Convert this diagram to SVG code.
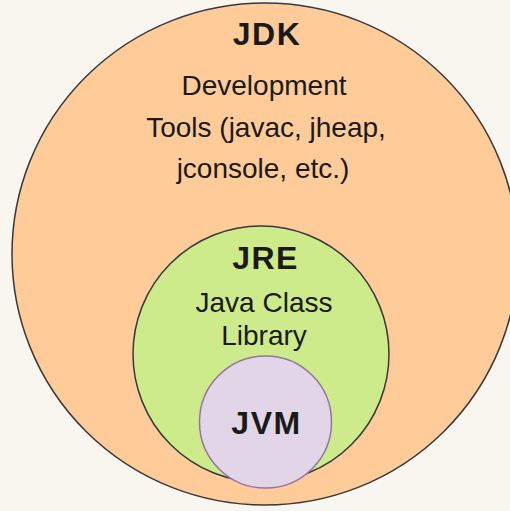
<svg xmlns="http://www.w3.org/2000/svg" width="510" height="511" viewBox="0 0 510 511">
<style>
.c{stroke:#36393d;stroke-width:1.5}
.t{font-family:"Liberation Sans",Arial,sans-serif;font-size:28px;fill:#1a1a1a;text-anchor:middle}
.b{font-weight:bold;font-size:32px;letter-spacing:1.5px}
</style>
<rect width="510" height="511" fill="#f9f6ef"/>
<g id="jdk">
<ellipse class="c" cx="265" cy="254" rx="253" ry="251" fill="#ffcc99"/>
<text class="t b" x="267" y="45">JDK</text>
<text class="t" x="264" y="95">Development</text>
<text class="t" x="266" y="137">Tools (javac, jheap,</text>
<text class="t" x="263" y="178">jconsole, etc.)</text>
</g>
<g id="jre">
<circle class="c" cx="261" cy="354" r="128" fill="#cdeb8b"/>
<text class="t b" x="265.5" y="269">JRE</text>
<text class="t" x="264" y="312">Java Class</text>
<text class="t" x="264" y="345">Library</text>
</g>
<g id="jvm">
<circle cx="265.5" cy="422" r="66" fill="#e1d5e7" stroke="#9673a6" stroke-width="1.5"/>
<text class="t b" x="266.5" y="434">JVM</text>
</g>
<g id="connectors"/>
</svg>
